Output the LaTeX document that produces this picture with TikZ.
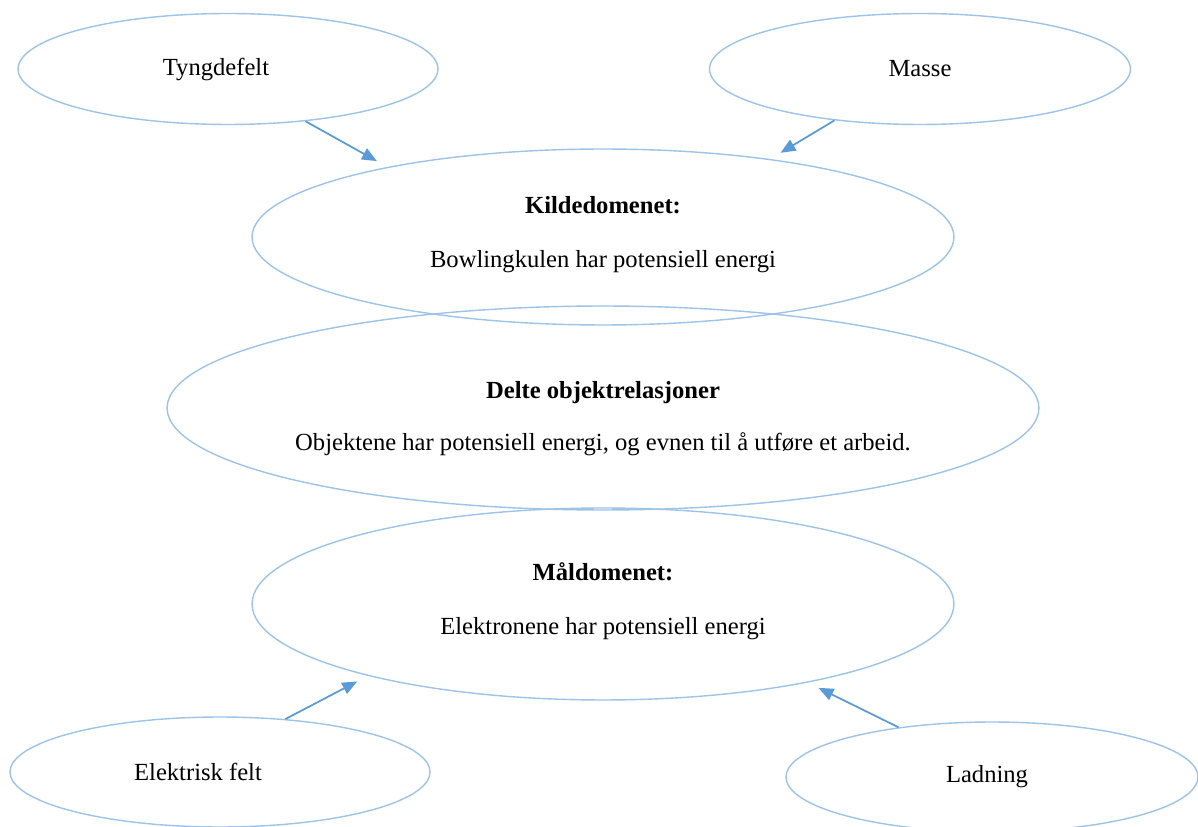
\documentclass[tikz,border=0pt]{standalone}
\usepackage{fontspec}
\setmainfont{Liberation Serif}
\usetikzlibrary{shapes.geometric,arrows.meta}
\definecolor{ringblue}{RGB}{157,195,230}
\definecolor{arrowblue}{RGB}{91,155,213}

\begin{document}
\begin{tikzpicture}[x=0.02cm,y=-0.02cm,font=\fontsize{14}{17}\selectfont,
  blob/.style={ellipse,draw=ringblue,line width=0.8pt,inner sep=0pt,align=center},
  feed/.style={draw=arrowblue,line width=1pt,-{Triangle[length=8.5pt,width=7pt]},shorten >=0.24cm}]
\useasboundingbox (0,0) rectangle (1198,827);
% the three domains in the middle
\node[blob,minimum width=14.04cm,minimum height=3.52cm] (kilde) at (603,237)
  {\textbf{Kildedomenet:}\\[14pt]Bowlingkulen har potensiell energi\\[-11pt]\mbox{}};
\node[blob,minimum width=17.44cm,minimum height=4.08cm] (delte) at (603,408)
  {\textbf{Delte objektrelasjoner}\\[13pt]Objektene har potensiell energi, og evnen til å utføre et arbeid.\\[-26pt]\mbox{}};
\node[blob,minimum width=14.04cm,minimum height=3.84cm] (maal) at (603,604)
  {\textbf{Måldomenet:}\\[14pt]Elektronene har potensiell energi\\[-11pt]\mbox{}};
% the four corners
\node[blob,minimum width=8.4cm,minimum height=2.22cm] (tyng) at (228,69) {Tyngdefelt\hspace*{0.48cm}};
\node[blob,minimum width=8.42cm,minimum height=2.22cm] (masse) at (920,69) {Masse};
\node[blob,minimum width=8.4cm,minimum height=2.2cm] (elek) at (220,772) {Elektrisk felt\hspace*{0.88cm}};
\node[blob,minimum width=8.24cm,minimum height=2.2cm] (lad) at (992,777) {Ladning\hspace*{0.2cm}};
% arrows
\draw[feed] (tyng.-34) -- (kilde.162);
\draw[feed] (masse.211) -- (kilde.25);
\draw[feed] (elek.39) -- (maal.197);
\draw[feed] (lad.152) -- (maal.-21);
\end{tikzpicture}
\end{document}
